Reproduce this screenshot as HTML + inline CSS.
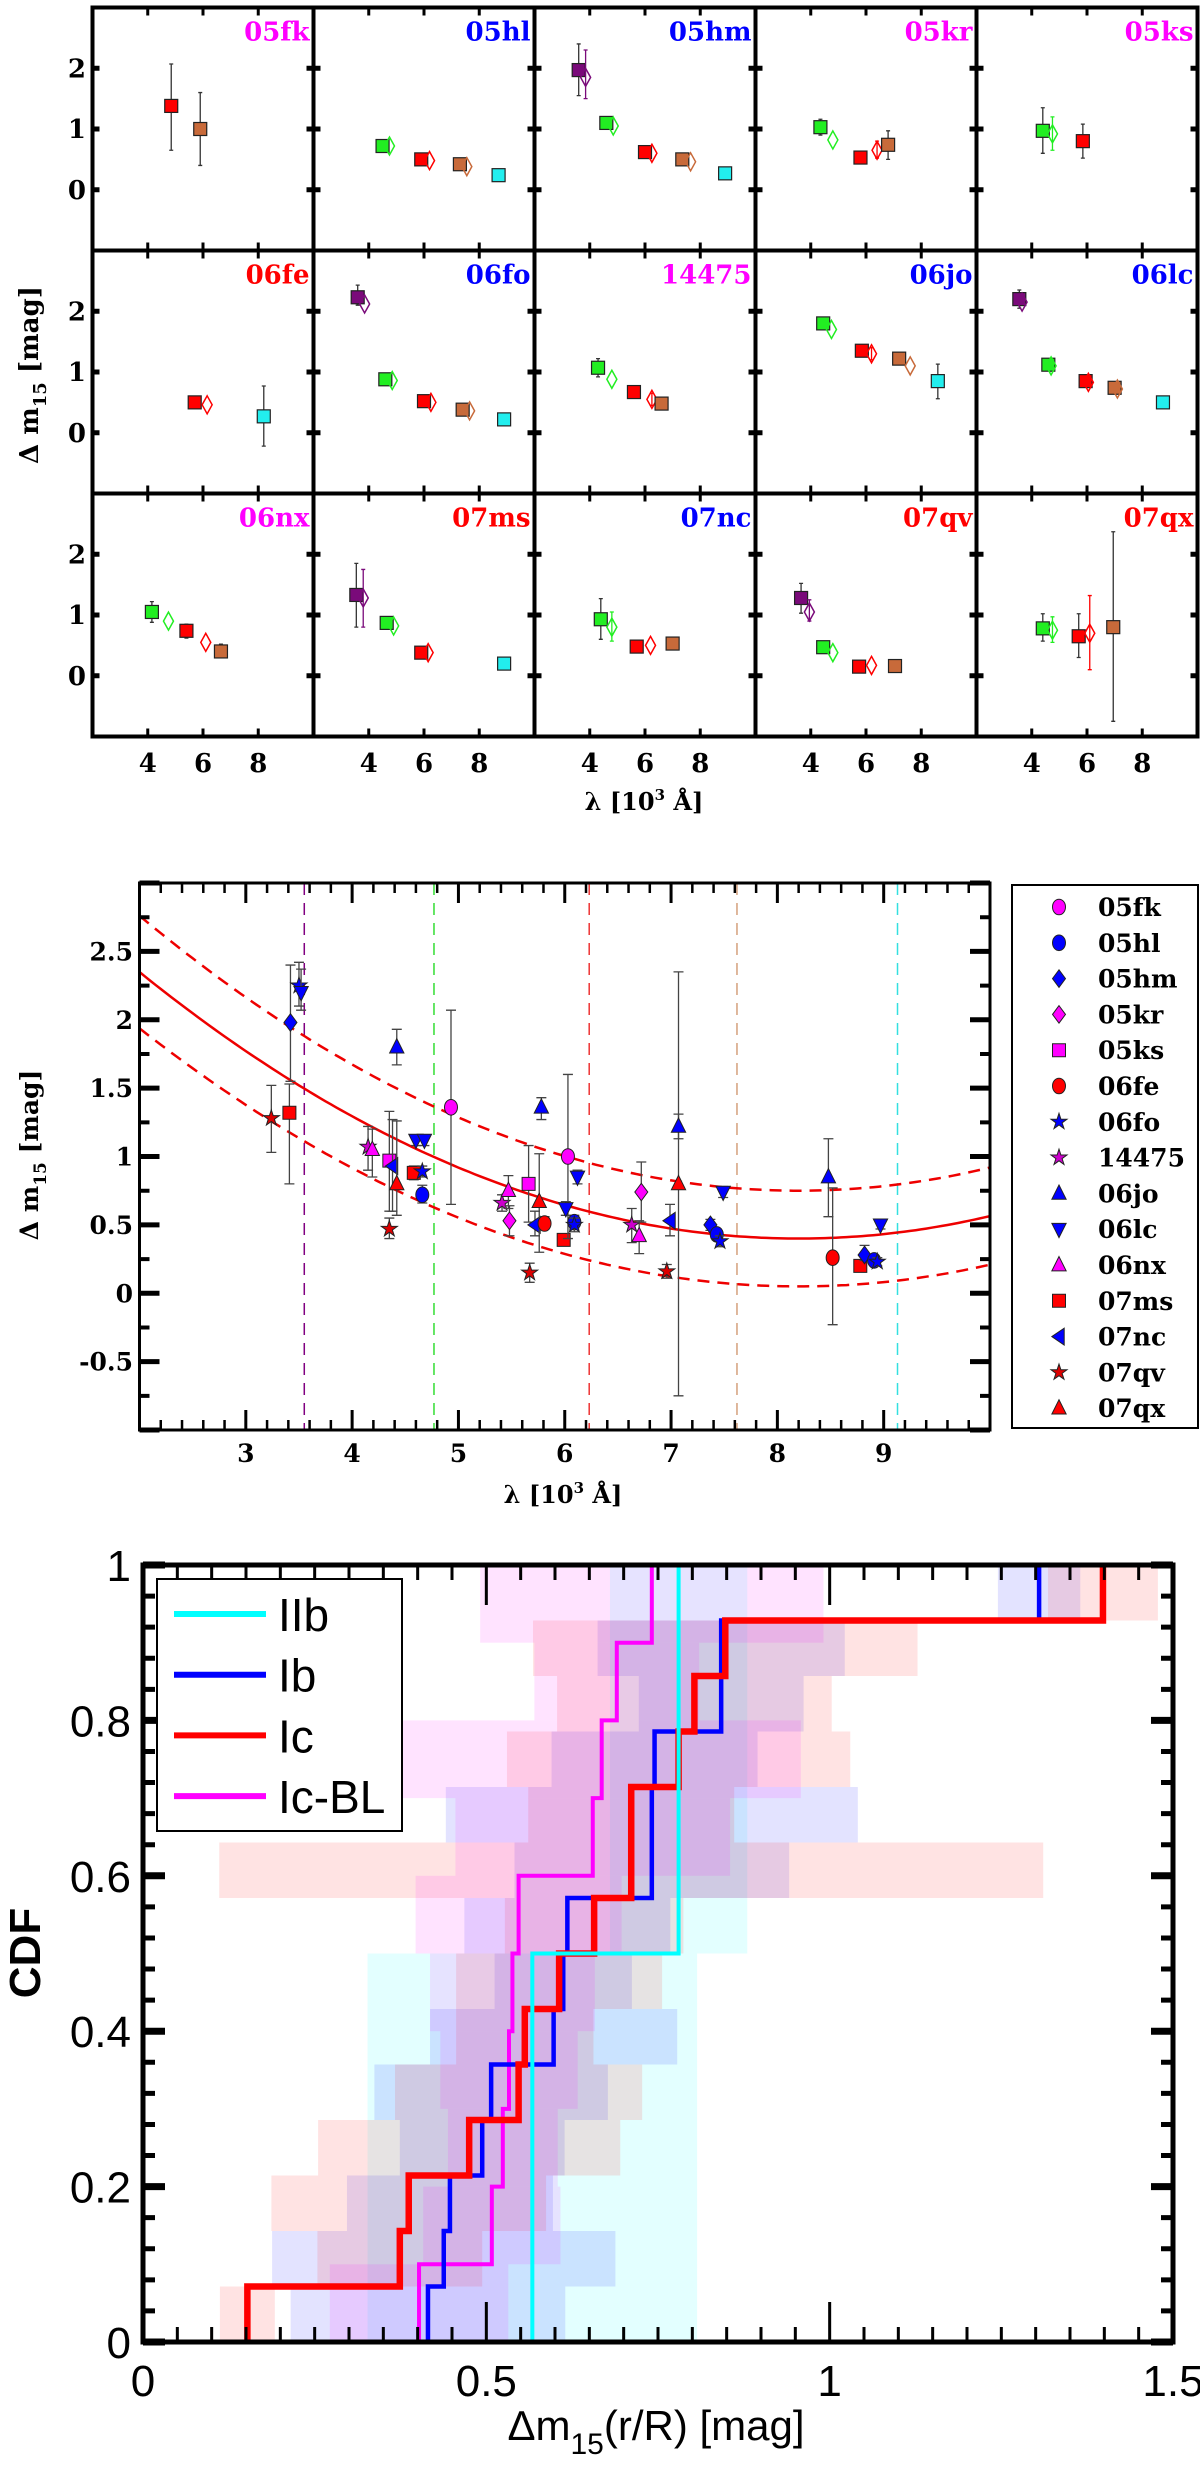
<!DOCTYPE html>
<html><head><meta charset="utf-8"><title>Delta m15 figure</title>
<style>
html,body{margin:0;padding:0;background:#fff;}
svg{display:block;}
.serif{font-family:"DejaVu Serif","Liberation Serif",serif;font-weight:bold;}
.sans{font-family:"Liberation Sans",Arial,sans-serif;}
</style></head>
<body>
<svg id="fig" xmlns="http://www.w3.org/2000/svg" width="1200" height="2470" viewBox="0 0 1200 2470">
<rect x="0" y="0" width="1200" height="2470" fill="#fff"/>
<g id="top"></g>
<g id="mid"></g>
<g id="cdf"></g>
</svg>
<script>
// ---------------- data: top grid ----------------
const panelNames = ["05fk","05hl","05hm","05kr","05ks","06fe","06fo","14475","06jo","06lc","06nx","07ms","07nc","07qv","07qx"];
const panelColors = ["#ff00ff","#0000ff","#0000ff","#ff00ff","#ff00ff","#ff0000","#0000ff","#ff00ff","#0000ff","#0000ff","#ff00ff","#ff0000","#0000ff","#ff0000","#ff0000"];
const bandColors = ["#7a0a7a","#22ee22","#ff0000","#c86a3a","#22eeee"];
// point: [band, x(10^3 A), dm15, errLow, errHigh, kind(0 square,1 diamond)]
const panelPoints = [
 [[2,4.85,1.38,0.65,2.07,0],[3,5.9,1.0,0.4,1.6,0]],
 [[1,4.5,0.72,null,null,0],[1,4.75,0.72,null,null,1],[2,5.9,0.5,null,null,0],[2,6.2,0.48,null,null,1],[3,7.3,0.42,null,null,0],[3,7.55,0.38,null,null,1],[4,8.7,0.24,null,null,0]],
 [[0,3.6,1.97,1.55,2.4,0],[0,3.85,1.85,1.5,2.3,1],[1,4.6,1.1,null,null,0],[1,4.85,1.05,null,null,1],[2,6.0,0.62,null,null,0],[2,6.25,0.6,null,null,1],[3,7.35,0.5,null,null,0],[3,7.65,0.46,null,null,1],[4,8.9,0.27,null,null,0]],
 [[1,4.35,1.03,0.9,1.16,0],[1,4.8,0.82,null,null,1],[2,5.8,0.53,0.48,0.6,0],[2,6.4,0.65,0.52,0.8,1],[3,6.8,0.74,0.5,0.97,0]],
 [[1,4.4,0.97,0.6,1.35,0],[1,4.75,0.92,0.65,1.2,1],[2,5.85,0.8,0.52,1.08,0]],
 [[2,5.7,0.5,null,null,0],[2,6.15,0.46,null,null,1],[4,8.2,0.27,-0.22,0.77,0]],
 [[0,3.6,2.23,2.1,2.43,0],[0,3.85,2.12,null,null,1],[1,4.6,0.88,null,null,0],[1,4.85,0.86,null,null,1],[2,6.0,0.52,null,null,0],[2,6.25,0.5,null,null,1],[3,7.4,0.38,null,null,0],[3,7.65,0.36,null,null,1],[4,8.9,0.22,null,null,0]],
 [[1,4.3,1.07,0.92,1.22,0],[1,4.8,0.88,null,null,1],[2,5.6,0.67,null,null,0],[2,6.25,0.55,0.45,0.65,1],[3,6.6,0.48,0.4,0.56,0]],
 [[1,4.45,1.8,1.7,1.9,0],[1,4.75,1.7,null,null,1],[2,5.85,1.35,null,null,0],[2,6.2,1.3,1.2,1.4,1],[3,7.2,1.22,null,null,0],[3,7.6,1.1,null,null,1],[4,8.6,0.85,0.56,1.13,0]],
 [[0,3.55,2.2,2.05,2.35,0],[0,3.65,2.15,null,null,1],[1,4.6,1.12,null,null,0],[1,4.7,1.1,null,null,1],[2,5.95,0.85,null,null,0],[2,6.05,0.83,null,null,1],[3,7.0,0.74,null,null,0],[3,7.1,0.72,null,null,1],[4,8.75,0.5,null,null,0]],
 [[1,4.15,1.05,0.88,1.22,0],[1,4.75,0.9,null,null,1],[2,5.4,0.74,0.62,0.85,0],[2,6.1,0.55,null,null,1],[3,6.65,0.4,0.32,0.52,0]],
 [[0,3.55,1.33,0.8,1.85,0],[0,3.8,1.28,0.8,1.75,1],[1,4.65,0.87,null,null,0],[1,4.9,0.82,null,null,1],[2,5.9,0.38,null,null,0],[2,6.15,0.38,null,null,1],[4,8.9,0.2,null,null,0]],
 [[1,4.4,0.93,0.6,1.27,0],[1,4.8,0.8,0.57,1.05,1],[2,5.7,0.48,null,null,0],[2,6.2,0.5,null,null,1],[3,7.0,0.53,0.45,0.62,0]],
 [[0,3.65,1.28,1.03,1.52,0],[0,3.95,1.05,0.9,1.25,1],[1,4.45,0.47,null,null,0],[1,4.8,0.38,null,null,1],[2,5.75,0.15,null,null,0],[2,6.2,0.17,null,null,1],[3,7.05,0.16,null,null,0]],
 [[1,4.4,0.78,0.57,1.02,0],[1,4.75,0.75,0.55,0.97,1],[2,5.7,0.65,0.3,1.02,0],[2,6.1,0.7,0.1,1.32,1],[3,6.95,0.8,-0.75,2.37,0]]
];
const topXTicks = [4,6,8];
const topYTicks = [0,1,2];

// ---------------- data: combined scatter ----------------
const snNames = ["05fk","05hl","05hm","05kr","05ks","06fe","06fo","14475","06jo","06lc","06nx","07ms","07nc","07qv","07qx"];
const snColors = ["#ff00ff","#0000ff","#0000ff","#ff00ff","#ff00ff","#ff0000","#0000ff","#cc00cc","#0000ff","#0000ff","#ff00ff","#ff0000","#0000ff","#dd0000","#ff0000"];
const snShapes = ["circle","circle","diamond","diamond","square","circle","star","star","up","down","up","square","left","star","up"];
// [snIndex, x, y, errLow, errHigh]
const midPoints = [
 [13,3.24,1.28,1.03,1.52],[11,3.41,1.32,0.8,1.53],[2,3.42,1.98,1.55,2.4],[6,3.5,2.25,2.1,2.42],[9,3.52,2.2,2.07,2.37],
 [7,4.15,1.07,0.9,1.22],[10,4.19,1.05,0.85,1.2],[4,4.35,0.97,0.6,1.33],[12,4.38,0.93,0.6,1.27],[13,4.35,0.47,0.4,0.55],
 [14,4.42,0.8,0.57,1.26],[8,4.42,1.8,1.67,1.93],[11,4.58,0.88,0.83,0.93],[1,4.66,0.72,0.66,0.79],[6,4.66,0.89,0.85,0.93],
 [9,4.6,1.12,1.08,1.16],[9,4.68,1.12,1.08,1.16],[0,4.93,1.36,0.65,2.07],
 [7,5.41,0.66,0.6,0.72],[10,5.47,0.75,0.62,0.86],[3,5.48,0.53,0.42,0.64],[4,5.66,0.8,0.52,1.08],[12,5.72,0.5,0.42,0.6],
 [13,5.67,0.15,0.08,0.22],[14,5.76,0.67,0.3,1.02],[5,5.81,0.51,0.47,0.56],[11,5.99,0.39,0.36,0.42],[0,6.03,1.0,0.4,1.6],
 [8,5.78,1.36,1.27,1.43],[9,6.12,0.85,0.8,0.9],[9,6.01,0.62,0.57,0.67],[1,6.09,0.52,0.47,0.57],[6,6.09,0.5,0.45,0.55],
 [7,6.63,0.5,0.37,0.62],[10,6.7,0.42,0.29,0.53],[3,6.72,0.74,0.52,0.96],[13,6.96,0.16,0.11,0.21],[12,6.99,0.53,0.42,0.65],
 [14,7.07,0.8,-0.75,2.35],[8,7.07,1.22,1.13,1.31],[9,7.49,0.74,0.7,0.78],[2,7.37,0.5,0.46,0.54],[1,7.43,0.43,0.39,0.47],
 [6,7.46,0.38,0.34,0.42],[8,8.48,0.85,0.56,1.13],[5,8.52,0.26,-0.23,0.77],[11,8.78,0.2,0.17,0.23],[2,8.82,0.28,0.24,0.35],
 [1,8.91,0.24,0.21,0.27],[6,8.94,0.23,0.2,0.26],[9,8.97,0.5,0.47,0.53]
];
const fitCoef = [0.0507, 8.2, 0.4];     // a*(x-x0)^2 + ymin
const fitBand = [0.35, 0.0016];         // band half-width = b0 + b1*(x-x0)^2
const bandLines = [3.55, 4.77, 6.23, 7.62, 9.13];
const bandLineColors = ["#800080","#33dd33","#ee3333","#d4a07c","#33e0e0"];
const midXTicks = [3,4,5,6,7,8,9];
const midYTicks = [-0.5,0,0.5,1,1.5,2,2.5];
const midYTickLabels = ["-0.5","0","0.5","1","1.5","2","2.5"];

// ---------------- data: CDF ----------------
const cdfNames = ["IIb","Ib","Ic","Ic-BL"];
const cdfColors = ["#00ffff","#0000ff","#ff0000","#ff00ff"];
const valsIIb = [0.567,0.78];
const valsIb = [0.415,0.438,0.447,0.494,0.507,0.598,0.612,0.618,0.741,0.741,0.745,0.842,0.842,1.305];
const valsIc = [0.152,0.374,0.387,0.475,0.547,0.556,0.606,0.657,0.711,0.711,0.78,0.803,0.848,1.398];
const valsIcBL = [0.402,0.508,0.524,0.533,0.538,0.547,0.655,0.668,0.69,0.741];
const errIIb = [0.24,0.1];
const errIb = [0.2,0.25,0.15,0.12,0.17,0.18,0.1,0.15,0.2,0.3,0.15,0.12,0.18,0.06];
const errIc = [0.04,0.12,0.2,0.22,0.18,0.1,0.15,0.13,0.6,0.15,0.25,0.2,0.28,0.08];
const errIcBL = [0.13,0.1,0.08,0.1,0.12,0.15,0.2,0.29,0.12,0.25];
const cdfXTicks = [0,0.5,1,1.5];
const cdfXTickLabels = ["0","0.5","1","1.5"];
const cdfYTicks = [0,0.2,0.4,0.6,0.8,1];
const cdfYTickLabels = ["0","0.2","0.4","0.6","0.8","1"];

// ---------------- helpers ----------------
const NS = "http://www.w3.org/2000/svg";
function mk(parent, tag, attrs, text){
  const el = document.createElementNS(NS, tag);
  for (const k in attrs) el.setAttribute(k, attrs[k]);
  if (text !== undefined) el.textContent = text;
  parent.appendChild(el);
  return el;
}
function markerPath(shape, cx, cy, s){
  switch(shape){
    case "square": return `M${cx-s},${cy-s}H${cx+s}V${cy+s}H${cx-s}Z`;
    case "diamond": return `M${cx},${cy-s*1.35}L${cx+s},${cy}L${cx},${cy+s*1.35}L${cx-s},${cy}Z`;
    case "up": return `M${cx},${cy-s*1.3}L${cx+s*1.1},${cy+s*0.9}L${cx-s*1.1},${cy+s*0.9}Z`;
    case "down": return `M${cx},${cy+s*1.3}L${cx+s*1.1},${cy-s*0.9}L${cx-s*1.1},${cy-s*0.9}Z`;
    case "left": return `M${cx-s*1.1},${cy}L${cx+s*0.8},${cy-s*1.3}L${cx+s*0.8},${cy+s*1.3}Z`;
    case "star": {
      let d = "";
      for (let i=0;i<10;i++){
        const r = i%2===0 ? s*1.3 : s*0.5;
        const a = -Math.PI/2 + i*Math.PI/5;
        d += (i===0?"M":"L") + (cx + r*Math.cos(a)).toFixed(1) + "," + (cy + r*Math.sin(a)).toFixed(1);
      }
      return d + "Z";
    }
    default: return `M${cx-s},${cy}a${s},${s*1.2} 0 1,0 ${2*s},0a${s},${s*1.2} 0 1,0 ${-2*s},0Z`;
  }
}

// ---------------- top grid ----------------
(function(){
  const g = document.getElementById("top");
  const L = 92.5, W = 221, T = 7.5, H = 243;
  const x0 = 2, x1 = 10, y0 = -1, y1 = 3;
  for (let p=0; p<15; p++){
    const col = p%5, row = Math.floor(p/5);
    const cl = L + col*W, ct = T + row*H;
    const sx = v => cl + (v-x0)/(x1-x0)*W;
    const sy = v => ct + (y1-v)/(y1-y0)*H;
    const pg = mk(g, "g", {});
    
    
    const fr = mk(pg, "rect", {x:cl, y:ct, width:W, height:H, fill:"none", stroke:"#000", "stroke-width":4});
    
    
    topXTicks.forEach(t=>{
      const a = mk(pg,"line",{x1:sx(t),x2:sx(t),y1:ct,y2:ct+8,stroke:"#000","stroke-width":3});
      
      
      const b = mk(pg,"line",{x1:sx(t),x2:sx(t),y1:ct+H,y2:ct+H-8,stroke:"#000","stroke-width":3});
      
      
    });
    topYTicks.forEach(t=>{
      const a = mk(pg,"line",{x1:cl,x2:cl+7,y1:sy(t),y2:sy(t),stroke:"#000","stroke-width":5});
      
      
      const b = mk(pg,"line",{x1:cl+W,x2:cl+W-7,y1:sy(t),y2:sy(t),stroke:"#000","stroke-width":5});
      
      
    });
    const lab = mk(pg,"text",{x:cl+W-4,y:ct+33,"text-anchor":"end",fill:panelColors[p],"font-size":26,class:"serif"}, panelNames[p]);
    
    
    panelPoints[p].forEach(pt=>{
      const [b, x, y, lo, hi, kind] = pt;
      const cx = sx(x), cy = sy(y);
      if (lo !== null){
        const ec = kind===1 ? bandColors[b] : "#333";
        const e = mk(pg,"path",{d:`M${cx},${sy(lo)}V${sy(hi)}M${cx-2},${sy(lo)}h4M${cx-2},${sy(hi)}h4`,stroke:ec,"stroke-width":1.3,fill:"none"});
        
        
      }
      let m;
      if (kind===0){
        m = mk(pg,"rect",{x:cx-6.5,y:cy-6.5,width:13,height:13,fill:bandColors[b],stroke:"#222","stroke-width":1.2});
        
      } else {
        m = mk(pg,"path",{d:`M${cx},${cy-9}L${cx+5},${cy}L${cx},${cy+9}L${cx-5},${cy}Z`,fill:"none",stroke:bandColors[b],"stroke-width":1.5});
        
      }
      
    });
    if (col===0){
      topYTicks.forEach(t=>{
        const tl = mk(g,"text",{x:86,y:sy(t)+9,"text-anchor":"end","font-size":26,class:"serif"}, String(t));
        
        
      });
    }
    if (row===2){
      topXTicks.forEach(t=>{
        const tl = mk(g,"text",{x:sx(t),y:772,"text-anchor":"middle","font-size":26,class:"serif"}, String(t));
        
        
      });
    }
  }
  const yl = mk(g,"text",{x:0,y:0,transform:"translate(38,375) rotate(-90)","text-anchor":"middle","font-size":26,class:"serif"});
  
  
  yl.innerHTML = 'Δ m<tspan font-size="18" dy="8">15</tspan><tspan dy="-8"> [mag]</tspan>';
  const xl = mk(g,"text",{x:644,y:810,"text-anchor":"middle","font-size":24,class:"serif"});
  
  
  xl.innerHTML = 'λ [10<tspan font-size="15" dy="-10">3</tspan><tspan dy="10"> Å]</tspan>';
})();

// ---------------- combined scatter ----------------
(function(){
  const g = document.getElementById("mid");
  const L = 139.5, R = 990, T = 883, B = 1430;
  const x0=2, x1=10, y0=-1, y1=3;
  const sx = v => L + (v-x0)/(x1-x0)*(R-L);
  const sy = v => T + (y1-v)/(y1-y0)*(B-T);
  // band lines
  bandLines.forEach((v,i)=>{
    const l = mk(g,"line",{x1:sx(v),x2:sx(v),y1:T,y2:B,stroke:bandLineColors[i],"stroke-width":1.5,"stroke-dasharray":"12,8"});
    
    
  });
  // fit curves
  const fitY = x => fitCoef[0]*(x-fitCoef[1])**2 + fitCoef[2];
  const half = x => fitBand[0] + fitBand[1]*(x-fitCoef[1])**2;
  [[0,"none","fit-curve"],[1,"12,8","fit-upper-bound"],[-1,"12,8","fit-lower-bound"]].forEach(([s,dash,name])=>{
    let d="";
    for (let i=0;i<=160;i++){
      const x = x0 + (x1-x0)*i/160;
      d += (i?"L":"M") + sx(x).toFixed(1) + "," + sy(fitY(x)+s*half(x)).toFixed(1);
    }
    const p = mk(g,"path",{d:d,fill:"none",stroke:"#ee0000","stroke-width":2.5,"stroke-dasharray":dash});
    
    
  });
  // points
  midPoints.forEach(pt=>{
    const [si,x,y,lo,hi] = pt;
    const cx = sx(x), cy = sy(y);
    const e = mk(g,"path",{d:`M${cx},${sy(lo)}V${sy(hi)}M${cx-5},${sy(lo)}h10M${cx-5},${sy(hi)}h10`,stroke:"#444","stroke-width":1.3,fill:"none"});
    
    
    const m = mk(g,"path",{d:markerPath(snShapes[si],cx,cy,6.5),fill:snColors[si],stroke:"#222","stroke-width":1});
    
    
  });
  // frame
  const fr = mk(g,"rect",{x:L,y:T,width:R-L,height:B-T,fill:"none",stroke:"#000","stroke-width":3});
  
  
  // ticks
  for (let v=2; v<=10.001; v+=0.2){
    const major = Math.abs(v-Math.round(v))<1e-6;
    const len = major?20:10;
    const t = mk(g,"path",{d:`M${sx(v)},${T}v${len}M${sx(v)},${B}v${-len}`,stroke:"#000","stroke-width":major?3:2.5});
    
    
  }
  for (let v=-1; v<=3.001; v+=0.25){
    const major = Math.abs(v*2-Math.round(v*2))<1e-6;
    const len = major?20:10;
    const t = mk(g,"path",{d:`M${L},${sy(v)}h${len}M${R},${sy(v)}h${-len}`,stroke:"#000","stroke-width":major?5:4});
    
    
  }
  midXTicks.forEach(v=>{
    const tl = mk(g,"text",{x:sx(v),y:1462,"text-anchor":"middle","font-size":25,class:"serif"}, String(v));
    
    
  });
  midYTicks.forEach((v,i)=>{
    const tl = mk(g,"text",{x:133,y:sy(v)+9,"text-anchor":"end","font-size":25,class:"serif"}, midYTickLabels[i]);
    
    
  });
  const yl = mk(g,"text",{x:0,y:0,transform:"translate(38,1155) rotate(-90)","text-anchor":"middle","font-size":25,class:"serif"});
  
  
  yl.innerHTML = 'Δ m<tspan font-size="17" dy="8">15</tspan><tspan dy="-8"> [mag]</tspan>';
  const xl = mk(g,"text",{x:563,y:1503,"text-anchor":"middle","font-size":24,class:"serif"});
  
  
  xl.innerHTML = 'λ [10<tspan font-size="15" dy="-10">3</tspan><tspan dy="10"> Å]</tspan>';
  // legend
  const lg = mk(g,"g",{});
  
  
  const lb = mk(lg,"rect",{x:1012,y:885,width:186,height:543,fill:"#fff",stroke:"#000","stroke-width":2});
  
  
  snNames.forEach((n,i)=>{
    const y = 907 + i*35.8;
    const m = mk(lg,"path",{d:markerPath(snShapes[i],1059,y,6.5),fill:snColors[i],stroke:"#222","stroke-width":1});
    
    
    const t = mk(lg,"text",{x:1098,y:y+9,"font-size":25,class:"serif"}, n);
    
    
  });
})();

// ---------------- CDF ----------------
(function(){
  const g = document.getElementById("cdf");
  const L = 143, R = 1173, T = 1565, B = 2342;
  const x0=0, x1=1.5;
  const sx = v => L + (v-x0)/(x1-x0)*(R-L);
  const sy = v => B - v*(B-T);
  const series = [[valsIIb,errIIb],[valsIb,errIb],[valsIc,errIc],[valsIcBL,errIcBL]];
  const shadeOrder = [0,1,2,3];
  // shaded boxes
  shadeOrder.forEach(si=>{
    const [vals, errs] = series[si];
    const N = vals.length;
    vals.forEach((v,i)=>{
      const a = Math.max(0, v-errs[i]), b = Math.min(1.5, v+errs[i]);
      const r = mk(g,"rect",{x:sx(a),y:sy((i+1)/N),width:sx(b)-sx(a),height:sy(i/N)-sy((i+1)/N),fill:cdfColors[si],"fill-opacity":0.11});
      
      
    });
  });
  // step lines
  const drawOrder = [3,1,2,0];
  const widths = [4,4.5,6.5,4];
  drawOrder.forEach(si=>{
    const vals = series[si][0];
    const N = vals.length;
    let d = `M${sx(vals[0])},${sy(0)}`;
    vals.forEach((v,i)=>{
      d += `H${sx(v)}V${sy((i+1)/N)}`;
    });
    const p = mk(g,"path",{d:d,fill:"none",stroke:cdfColors[si],"stroke-width":widths[si]});
    
    
  });
  // frame
  const fr = mk(g,"rect",{x:L,y:T,width:R-L,height:B-T,fill:"none",stroke:"#000","stroke-width":5});
  
  
  for (let k=0; k<=30; k++){
    const v = k*0.05;
    const major = k%10===0;
    const len = major?40:15;
    const t = mk(g,"path",{d:`M${sx(v)},${B}v${-len}M${sx(v)},${T}v${len}`,stroke:"#000","stroke-width":3});
    
    
  }
  for (let k=0; k<=25; k++){
    const v = k*0.04;
    const major = k%5===0;
    const len = major?22:12;
    const t = mk(g,"path",{d:`M${L},${sy(v)}h${len}M${R},${sy(v)}h${-len}`,stroke:"#000","stroke-width":major?7:5});
    
    
  }
  cdfXTicks.forEach((v,i)=>{
    const tl = mk(g,"text",{x:sx(v),y:2396,"text-anchor":"middle","font-size":44,class:"sans"}, cdfXTickLabels[i]);
    
    
  });
  cdfYTicks.forEach((v,i)=>{
    const tl = mk(g,"text",{x:131,y:sy(v)+16,"text-anchor":"end","font-size":44,class:"sans"}, cdfYTickLabels[i]);
    
    
  });
  const yl = mk(g,"text",{x:0,y:0,transform:"translate(40,1953) rotate(-90)","text-anchor":"middle","font-size":44,"font-weight":"bold",class:"sans"}, "CDF");
  
  
  const xl = mk(g,"text",{x:656,y:2440,"text-anchor":"middle","font-size":42,class:"sans"});
  
  
  xl.innerHTML = 'Δm<tspan font-size="30" dy="14">15</tspan><tspan dy="-14">(r/R) [mag]</tspan>';
  // legend
  const lg = mk(g,"g",{});
  
  
  const lb = mk(lg,"rect",{x:157,y:1579,width:245,height:252,fill:"#fff",stroke:"#000","stroke-width":2});
  
  
  cdfNames.forEach((n,i)=>{
    const y = 1614 + i*60.7;
    const l = mk(lg,"line",{x1:174,x2:266,y1:y,y2:y,stroke:cdfColors[i],"stroke-width":6});
    
    
    const t = mk(lg,"text",{x:278,y:y+17,"font-size":46,class:"sans"}, n);
    
    
  });
})();
</script>
</body></html>
